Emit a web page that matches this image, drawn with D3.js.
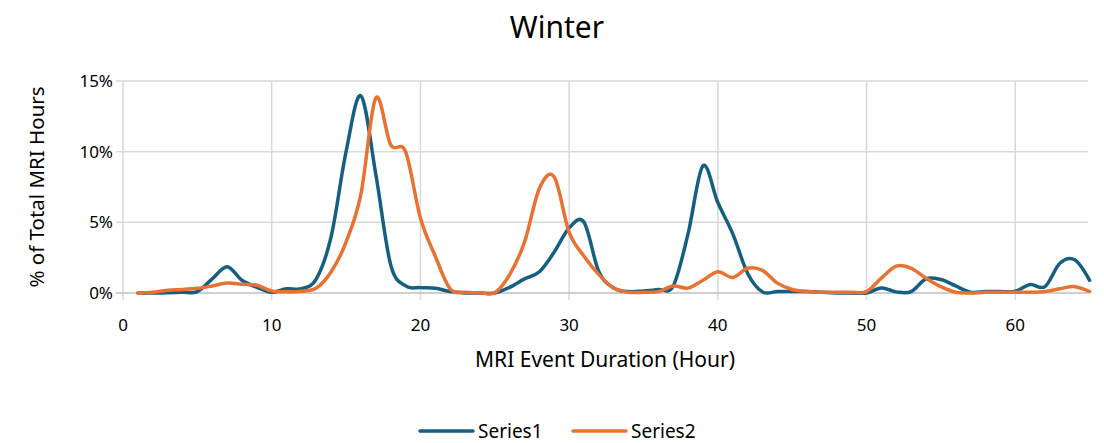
<!DOCTYPE html>
<html>
<head>
<meta charset="utf-8">
<script src="https://cdn.jsdelivr.net/npm/d3@7"></script>
<style>
  html, body { margin: 0; padding: 0; background: #fff; }
  svg { display: block; }
  text { font-family: "Noto Sans", "Liberation Sans", sans-serif; fill: #000; }
</style>
</head>
<body>
<svg id="chart" width="1104" height="443"></svg>
<script>
// Event duration in hours (x values)
const hours = d3.range(1, 66);

// Share of total MRI hours (%) per duration
const series1 = [
  0, 0, 0.02, 0.05, 0.1, 1.0, 1.85, 0.9, 0.4, 0.05,
  0.3, 0.3, 1.0, 4.0, 10.0, 13.95, 8.4, 2.0, 0.5, 0.38,
  0.33, 0.1, 0, 0, 0, 0.4, 1.0, 1.5, 2.9, 4.6,
  5.0, 1.5, 0.35, 0.1, 0.15, 0.25, 0.5, 4.2, 9.0, 6.4,
  4.2, 1.4, 0.08, 0.1, 0.1, 0.1, 0.05, 0, 0, 0,
  0.35, 0.08, 0.1, 1.0, 0.95, 0.5, 0.05, 0.1, 0.1, 0.12,
  0.6, 0.45, 2.1, 2.35, 0.9
];
const series2 = [
  0, 0.05, 0.2, 0.25, 0.33, 0.5, 0.7, 0.62, 0.55, 0.15,
  0.08, 0.12, 0.35, 1.5, 3.6, 7.0, 13.8, 10.5, 10.0, 5.3,
  2.6, 0.3, 0.05, 0.02, 0.02, 1.3, 3.6, 7.4, 8.2, 4.3,
  2.6, 1.3, 0.35, 0.05, 0.05, 0.1, 0.5, 0.35, 0.9, 1.5,
  1.1, 1.75, 1.6, 0.7, 0.25, 0.1, 0.05, 0.05, 0.05, 0.1,
  1.05, 1.9, 1.75, 1.05, 0.45, 0.05, 0, 0.05, 0.05, 0.05,
  0.05, 0.1, 0.3, 0.45, 0.1
];

const seriesNames = ["Series1", "Series2"];
const seriesColors = ["#156082", "#E97132"];
const xTicks = [0, 10, 20, 30, 40, 50, 60];
const yTicks = [0, 5, 10, 15];

const svg = d3.select("#chart");
const plot = { left: 123, right: 1089.6, top: 81, bottom: 293 };

const x = d3.scaleLinear().domain([0, 65]).range([plot.left, plot.right]);
const y = d3.scaleLinear().domain([0, 15]).range([plot.bottom, plot.top]);

// Horizontal gridlines (with short tick extension on the left)
svg.append("g").selectAll("line").data(yTicks.filter(d => d > 0)).join("line")
  .attr("x1", plot.left - 7).attr("x2", 1088)
  .attr("y1", d => y(d)).attr("y2", d => y(d))
  .attr("stroke", "#d9d9d9").attr("stroke-width", 1.5);

// Vertical gridlines (extend below the axis as tick marks)
svg.append("g").selectAll("line").data(xTicks).join("line")
  .attr("x1", d => x(d)).attr("x2", d => x(d))
  .attr("y1", plot.top).attr("y2", plot.bottom + 7)
  .attr("stroke", "#d9d9d9").attr("stroke-width", 1.5);

// Baseline axis
svg.append("line")
  .attr("x1", plot.left - 7).attr("x2", 1088)
  .attr("y1", y(0)).attr("y2", y(0))
  .attr("stroke", "#bfbfbf").attr("stroke-width", 1.5);

// Y tick labels
svg.append("g").selectAll("text").data(yTicks).join("text")
  .attr("x", 113).attr("y", d => y(d))
  .attr("dy", "0.35em").attr("text-anchor", "end")
  .attr("font-size", 17)
  .text(d => d + "%");

// X tick labels
svg.append("g").selectAll("text").data(xTicks).join("text")
  .attr("x", d => x(d)).attr("y", 325)
  .attr("dy", "0.35em").attr("text-anchor", "middle")
  .attr("font-size", 17)
  .text(d => d);

// Series lines, smoothed
const line = d3.line()
  .x((d, i) => x(hours[i]))
  .y(d => y(d))
  .curve(d3.curveCardinal.tension(0));

[series1, series2].forEach((s, k) => {
  svg.append("path")
    .attr("d", line(s))
    .attr("fill", "none")
    .attr("stroke", seriesColors[k])
    .attr("stroke-width", 3.5)
    .attr("stroke-linejoin", "round")
    .attr("stroke-linecap", "round");
});

// Title
svg.append("text")
  .attr("x", 557).attr("y", 27).attr("dy", "0.35em")
  .attr("text-anchor", "middle").attr("font-size", 30)
  .text("Winter");

// Axis titles
svg.append("text")
  .attr("x", 605).attr("y", 360).attr("dy", "0.35em")
  .attr("text-anchor", "middle").attr("font-size", 21)
  .text("MRI Event Duration (Hour)");

svg.append("text")
  .attr("transform", "translate(37,187) rotate(-90)")
  .attr("dy", "0.35em")
  .attr("text-anchor", "middle").attr("font-size", 20.5)
  .text("% of Total MRI Hours");

// Legend
const legendX = [420, 573];
seriesNames.forEach((name, k) => {
  const g = svg.append("g").attr("transform", `translate(${legendX[k]},431)`);
  g.append("line").attr("x1", 0).attr("x2", 53).attr("y1", 0).attr("y2", 0)
    .attr("stroke", seriesColors[k]).attr("stroke-width", 3.5).attr("stroke-linecap", "round");
  g.append("text").attr("x", 58).attr("y", 0).attr("dy", "0.35em")
    .attr("font-size", 19).text(name);
});
</script>
</body>
</html>
